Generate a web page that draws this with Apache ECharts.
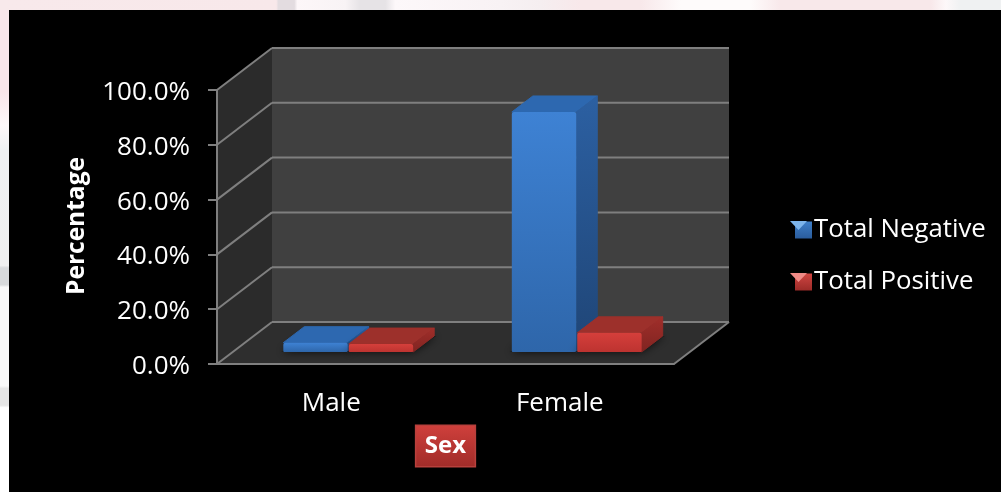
<!DOCTYPE html>
<html>
<head>
<meta charset="utf-8">
<style>html,body{margin:0;padding:0;background:#000}#chart{width:1001px;height:492px}</style>
<script src="https://cdn.jsdelivr.net/npm/echarts@6/dist/echarts.min.js"></script>
</head>
<body>
<div id="chart"></div>
<script>
// Share of tested people by sex, as percentages
const categories = ['Male', 'Female'];
const totalNegative = [3.4, 87.6];
const totalPositive = [2.9, 7.0];
const yTicks = [0, 20, 40, 60, 80, 100];

// Oblique projection of the chart box, in pixels
const BOX = { dx: 55, dy: -42 };
const BAR = { nearX: 17, nearY: -12, depthX: 21, depthY: -16, widthRatio: 0.282 };
const FONT = '"Open Sans", Lato, sans-serif';
const AXIS_GRAY = '#7f7f7f';

const vGrad = (stops) => new echarts.graphic.LinearGradient(0, 0, 0, 1,
  stops.map((c, i) => ({ offset: i / (stops.length - 1), color: c })));

const PALETTE = {
  neg: { front: ['#3e82d4', '#2e66aa'], top: '#2d68b0', side: ['#2c60a2', '#1f4576'] },
  pos: { front: ['#d53f3b', '#bd3330'], top: '#9d302b', side: ['#a12e2a', '#7f2421'] }
};

// Walls, floor and the gridlines that run along them
function renderFrame(params, api) {
  const cs = params.coordSys;
  const y = api.coord([0, api.value(1)])[1];
  const left = cs.x, right = cs.x + cs.width;
  const bottom = cs.y + cs.height, top = cs.y;
  const line = (x1, y1, x2, y2) => ({
    type: 'line', silent: true,
    shape: { x1, y1, x2, y2 },
    style: { stroke: AXIS_GRAY, lineWidth: 2 }
  });
  const poly = (points, fill) => ({ type: 'polygon', silent: true, shape: { points }, style: { fill } });
  const children = [];
  if (params.dataIndex === 0) {
    children.push(
      poly([[left + BOX.dx, top + BOX.dy], [right + BOX.dx, top + BOX.dy],
            [right + BOX.dx, bottom + BOX.dy], [left + BOX.dx, bottom + BOX.dy]], '#404040'),
      poly([[left, top], [left + BOX.dx, top + BOX.dy], [left + BOX.dx, bottom + BOX.dy], [left, bottom]], '#2b2b2b'),
      poly([[left, bottom], [left + BOX.dx, bottom + BOX.dy], [right + BOX.dx, bottom + BOX.dy], [right, bottom]], '#2e2e2e'),
      line(right, bottom, right + BOX.dx, bottom + BOX.dy)
    );
  }
  children.push(
    line(left, y, left + BOX.dx, y + BOX.dy),
    line(left + BOX.dx, y + BOX.dy, right + BOX.dx, y + BOX.dy)
  );
  return { type: 'group', children };
}

// One oblique prism per category, side by side around the band centre
function prismRenderer(colors, sideSign) {
  return function (params, api) {
    const idx = api.value(0);
    const base = api.coord([idx, 0]);
    const head = api.coord([idx, api.value(1)]);
    const w = api.size([1, 0])[0] * BAR.widthRatio;
    const centre = base[0] + BAR.nearX;
    const x0 = sideSign < 0 ? centre - w - 0.5 : centre + 0.5;
    const x1 = x0 + w;
    const yB = base[1] + BAR.nearY;
    const yT = head[1] + BAR.nearY;
    const dx = BAR.depthX, dy = BAR.depthY;
    const soft = (fill) => ({ fill, stroke: fill, lineWidth: 1, lineJoin: 'round' });
    return {
      type: 'group',
      children: [
        { type: 'polygon', silent: true,
          shape: { points: [[x0 - 2, yB], [x1, yB], [x1 + dx + 2, yB + dy], [x0 + dx, yB + dy]] },
          style: { fill: '#1d1d1d', shadowBlur: 9, shadowColor: 'rgba(0,0,0,0.75)' } },
        { type: 'polygon', silent: true,
          shape: { points: [[x0, yT], [x1, yT], [x1 + dx, yT + dy], [x0 + dx, yT + dy]] },
          style: soft(colors.top) },
        { type: 'polygon', silent: true,
          shape: { points: [[x1, yT], [x1 + dx, yT + dy], [x1 + dx, yB + dy], [x1, yB]] },
          style: soft(vGrad(colors.side)) },
        { type: 'rect', silent: true,
          shape: { x: x0, y: yT, width: w, height: yB - yT, r: [2, 2, 1, 1] },
          style: { fill: vGrad(colors.front) } }
      ]
    };
  };
}

const chart = echarts.init(document.getElementById('chart'), null, { renderer: 'canvas' });
chart.setOption({
  animation: false,
  backgroundColor: '#000',
  grid: { left: 217, top: 90, width: 457, height: 274, containLabel: false },
  xAxis: {
    type: 'category',
    data: categories,
    z: 5,
    axisLine: { lineStyle: { color: AXIS_GRAY, width: 2 } },
    axisTick: { show: false },
    axisLabel: { color: '#fff', fontFamily: FONT, fontSize: 26, margin: 27 },
    name: 'Sex',
    nameLocation: 'middle',
    nameGap: 62,
    nameTextStyle: {
      color: '#fff', fontFamily: FONT, fontSize: 24, fontWeight: 'bold',
      backgroundColor: vGrad(['#d0403c', '#a02c29']),
      borderColor: '#b8403c', borderWidth: 1.5,
      padding: [8, 8.5, 8, 8.5]
    }
  },
  yAxis: {
    type: 'value',
    min: 0, max: 100, interval: 20,
    z: 5,
    splitLine: { show: false },
    axisLine: { show: true, lineStyle: { color: AXIS_GRAY, width: 2 } },
    axisTick: { show: true, length: 9, lineStyle: { color: AXIS_GRAY, width: 2 } },
    axisLabel: {
      color: '#fff', fontFamily: FONT, fontSize: 26, margin: 27,
      verticalAlign: 'top',
      lineHeight: 5,
      formatter: (v) => v.toFixed(1) + '%'
    },
    name: 'Percentage',
    nameLocation: 'middle',
    nameGap: 127,
    nameTextStyle: { color: '#fff', fontFamily: FONT, fontSize: 24.5, fontWeight: 'bold', padding: [0, 0, 0, 2] }
  },
  legend: {
    orient: 'vertical',
    left: 790,
    top: 212,
    itemGap: 26,
    itemWidth: 17,
    itemHeight: 17,
    selectedMode: false,
    textStyle: { color: '#fff', fontFamily: FONT, fontSize: 25.8, padding: [0, 0, 0, -3] },
    data: [
      { name: 'Total Negative', icon: 'rect', itemStyle: { color: vGrad(['#3f7fc8', '#2a5c9c']) } },
      { name: 'Total Positive', icon: 'rect', itemStyle: { color: vGrad(['#d04642', '#9c2b28']) } }
    ]
  },
  series: [
    {
      type: 'custom', name: 'frame', z: 1, silent: true,
      renderItem: renderFrame,
      data: yTicks.map((v) => [0, v])
    },
    {
      type: 'custom', name: 'Total Negative', z: 2, silent: true,
      renderItem: prismRenderer(PALETTE.neg, -1),
      itemStyle: { color: '#3e82d4' },
      data: categories.map((c, i) => [i, totalNegative[i]])
    },
    {
      type: 'custom', name: 'Total Positive', z: 3, silent: true,
      renderItem: prismRenderer(PALETTE.pos, 1),
      itemStyle: { color: '#d53f3b' },
      data: categories.map((c, i) => [i, totalPositive[i]])
    }
  ],
  graphic: [
    // Pale slide background showing along the top and left edges
    { type: 'rect', z: 0, shape: { x: 0, y: 0, width: 1001, height: 10 },
      style: { fill: new echarts.graphic.LinearGradient(0, 0, 1, 0, [
        { offset: 0, color: '#f8e9eb' }, { offset: 0.276, color: '#f8e8ea' },
        { offset: 0.278, color: '#e3dce0' }, { offset: 0.294, color: '#e3dce0' },
        { offset: 0.297, color: '#fdf7f9' }, { offset: 0.345, color: '#f8f3f5' },
        { offset: 0.36, color: '#e6e3e6' }, { offset: 0.385, color: '#e6e3e6' },
        { offset: 0.395, color: '#fdf8fa' }, { offset: 0.5, color: '#f8f2f4' },
        { offset: 0.54, color: '#f5eef0' }, { offset: 0.58, color: '#f8e8ea' },
        { offset: 0.64, color: '#f8e8ea' }, { offset: 0.68, color: '#fefbfb' },
        { offset: 0.75, color: '#fefbfb' }, { offset: 0.78, color: '#f8e8ea' },
        { offset: 0.93, color: '#f8e8ea' }, { offset: 0.945, color: '#fdf8f9' },
        { offset: 0.96, color: '#eff1f2' }, { offset: 1, color: '#eff1f2' }
      ]) } },
    { type: 'rect', z: 0, shape: { x: 0, y: 10, width: 9, height: 482 },
      style: { fill: new echarts.graphic.LinearGradient(0, 0, 0, 1, [
        { offset: 0, color: '#f9e6ea' }, { offset: 0.17, color: '#f9e6ea' },
        { offset: 0.24, color: '#fdf8fa' }, { offset: 0.29, color: '#eff1f3' },
        { offset: 0.53, color: '#f0f0f0' }, { offset: 0.535, color: '#d8dadc' },
        { offset: 0.57, color: '#d8dadc' }, { offset: 0.575, color: '#f9f9f9' },
        { offset: 0.78, color: '#f9f9f9' }, { offset: 0.785, color: '#e6e6e6' },
        { offset: 0.82, color: '#e6e6e6' }, { offset: 0.825, color: '#ffffff' },
        { offset: 1, color: '#ffffff' }
      ]) } },
    // Bevel highlights on the legend keys
    { type: 'polygon', z: 50, shape: { points: [[790, 221], [807, 221], [798.5, 230]] }, style: { fill: '#7db4ea' } },
    { type: 'polygon', z: 50, shape: { points: [[790, 273], [807, 273], [798.5, 282]] }, style: { fill: '#f08a86' } }
  ]
});
</script>
</body>
</html>
